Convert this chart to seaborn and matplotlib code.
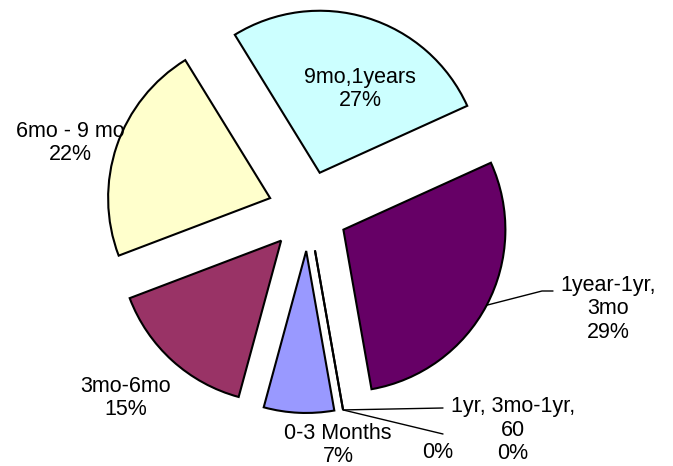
import matplotlib
matplotlib.use("Agg")
import matplotlib.pyplot as plt
import seaborn as sns
import numpy as np

# ---- data ----
categories = ["0-3 Months", "3mo-6mo", "6mo - 9 mo", "9mo,1years",
              "1year-1yr,\n3mo", "1yr, 3mo-1yr,\n60", ""]
values = [7, 15, 22, 27, 29, 0, 0]
pct_labels = ["7%", "15%", "22%", "27%", "29%", "0%", "0%"]
colors_hex = ["#9999FF", "#993366", "#FFFFCC", "#CCFFFF", "#660066", "#FF8080", "#0066CC"]

# ---- layout (pixel coords, y from top) ----
W, H = 673, 466
label_pos = [(338, 445), (126, 398), (70, 143), (360, 89), (608, 309), (513, 430), (438, 453)]
leader_elbow = {4: [(542, 291), (553, 291)], 5: [(443, 408)], 6: [(443, 434)]}

sns.set_theme(style="white")
plt.rcParams['font.family'] = ['Liberation Sans', 'DejaVu Sans']

fig = plt.figure(figsize=(W / 100, H / 100), dpi=100)
ax = fig.add_axes([0, 0, 1, 1])
R = 162
C = (308, H - 211)
wedges, _ = ax.pie(values, colors=sns.color_palette(colors_hex), startangle=-80,
                   counterclock=False, radius=R, center=C,
                   explode=[40] * len(values),
                   wedgeprops=dict(edgecolor='black', linewidth=1.5), frame=False)
ax.set_xlim(0, W)
ax.set_ylim(0, H)
ax.set_aspect('equal')
ax.axis('off')

for i, (cat, pct) in enumerate(zip(categories, pct_labels)):
    txt = f"{cat}\n{pct}" if cat else pct
    x, y = label_pos[i]
    ax.text(x, H - y, txt, ha='center', va='center', multialignment='center',
            fontsize=15.5, color='black', linespacing=1.15)

for i, pts in leader_elbow.items():
    w = wedges[i]
    tm = np.deg2rad((w.theta1 + w.theta2) / 2)
    cx, cy = w.center
    sx, sy = cx + w.r * np.cos(tm), cy + w.r * np.sin(tm)
    xs = [sx] + [p[0] for p in pts]
    ys = [sy] + [H - p[1] for p in pts]
    ax.plot(xs, ys, color='black', linewidth=1.0)

fig.savefig("out.png", dpi=100, facecolor='white')
